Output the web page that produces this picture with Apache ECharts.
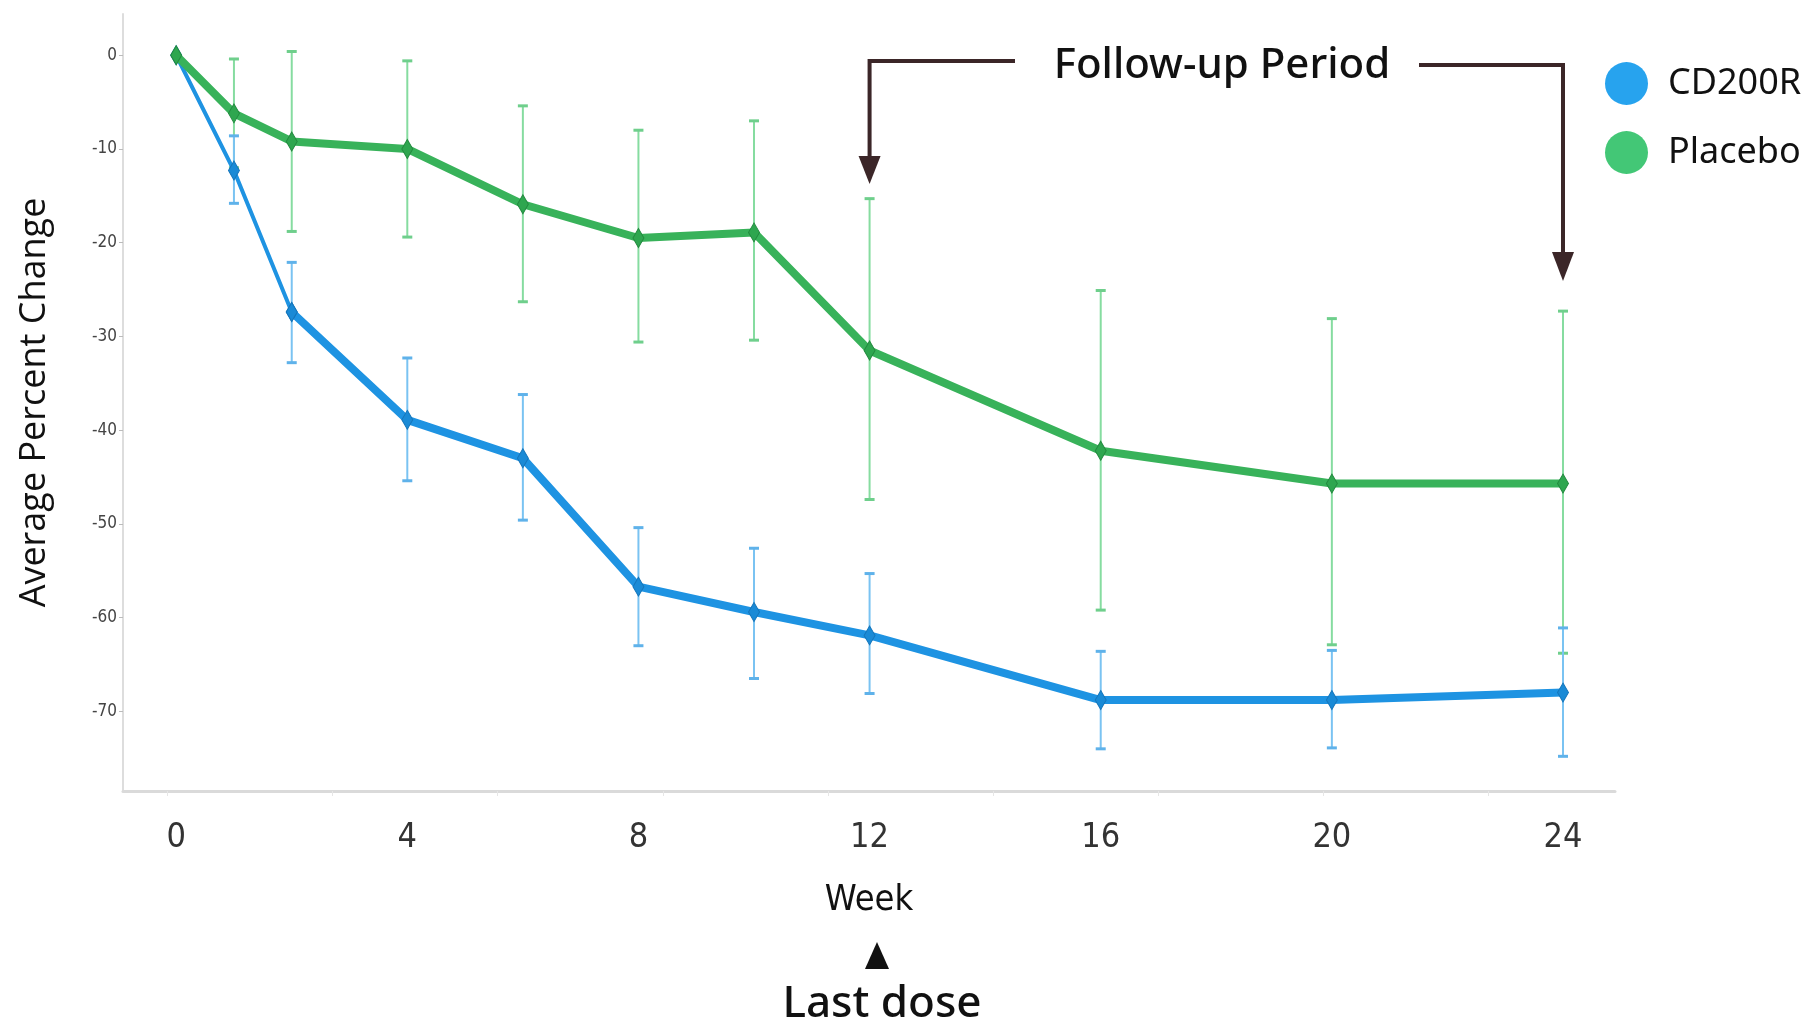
<!DOCTYPE html>
<html>
<head>
<meta charset="utf-8">
<title>Average Percent Change</title>
<script src="https://cdn.jsdelivr.net/npm/echarts@6/dist/echarts.min.js"></script>
<style>
  html, body { margin: 0; padding: 0; background: #fff; }
  #chart { width: 1805px; height: 1022px; }
</style>
</head>
<body>
<div id="chart"></div>
<script>
// visit weeks
var weeks = [0, 1, 2, 4, 6, 8, 10, 12, 16, 20, 24]
var weekTicks = [0, 4, 8, 12, 16, 20, 24]
var pctTicks = [0, -10, -20, -30, -40, -50, -60, -70]

// CD200R arm: mean and error bar ends
var cd200rMean = [0, -12.3, -27.4, -38.9, -43.0, -56.7, -59.4, -61.9, -68.8, -68.8, -68.0]
var cd200rLow = [0, -15.8, -32.8, -45.4, -49.6, -63.0, -66.5, -68.1, -74.0, -73.9, -74.8]
var cd200rHigh = [0, -8.6, -22.1, -32.3, -36.2, -50.4, -52.6, -55.3, -63.6, -63.5, -61.1]

// placebo arm
var placeboMean = [0, -6.2, -9.2, -10.0, -15.9, -19.5, -18.9, -31.5, -42.2, -45.7, -45.7]
var placeboLow = [0, -12.0, -18.8, -19.4, -26.3, -30.6, -30.4, -47.4, -59.2, -62.9, -63.8]
var placeboHigh = [0, -0.4, 0.4, -0.6, -5.4, -8.0, -7.0, -15.3, -25.1, -28.1, -27.3]

var narrow = "'DejaVu Sans Condensed', 'Liberation Sans Narrow', sans-serif"

function points (mean) {
  return weeks.map(function (w, i) { return [w, mean[i]] })
}

function bars (low, high) {
  return weeks.map(function (w, i) { return [w, low[i], high[i]] })
    .filter(function (d) { return d[1] !== d[2] })
}

// vertical error bar with small caps
function errorBar (color, capColor) {
  return function (params, api) {
    var x = api.value(0)
    var lo = api.coord([x, api.value(1)])
    var hi = api.coord([x, api.value(2)])
    var half = 5
    var cap = { stroke: capColor, lineWidth: 3 }
    return {
      type: 'group',
      children: [
        { type: 'line', shape: { x1: hi[0], y1: hi[1], x2: lo[0], y2: lo[1] }, style: { stroke: color, lineWidth: 2 } },
        { type: 'line', shape: { x1: hi[0] - half, y1: hi[1], x2: hi[0] + half, y2: hi[1] }, style: cap },
        { type: 'line', shape: { x1: lo[0] - half, y1: lo[1], x2: lo[0] + half, y2: lo[1] }, style: cap }
      ]
    }
  }
}

// faint ticks of the original axis
var minorTicks = []
for (var k = 0; k < 9; k++) minorTicks.push(-0.15 + k * 2.857)

var chart = echarts.init(document.getElementById('chart'))

var blue = '#1e93e2'
var green = '#38b25a'

chart.setOption({
  animation: false,
  grid: { left: 123, right: 190, top: 14, bottom: 231 },
  legend: {
    orient: 'vertical',
    left: 1605,
    top: 62,
    padding: 0,
    icon: 'circle',
    itemWidth: 43,
    itemHeight: 43,
    itemGap: 26,
    textStyle: { fontFamily: 'Noto Sans', fontSize: 36, color: '#111', padding: [0, 0, 0, 15] },
    data: [
      { name: 'CD200R', itemStyle: { color: '#27a3ee', borderWidth: 0 } },
      { name: 'Placebo', itemStyle: { color: '#43c776', borderWidth: 0 } }
    ]
  },
  xAxis: {
    type: 'value',
    min: -0.92,
    max: 24.9,
    splitLine: { show: false },
    axisLine: { onZero: false, lineStyle: { color: '#dadada', width: 3 } },
    axisTick: { show: true, customValues: minorTicks, length: 5, lineStyle: { color: '#e6e6e6' } },
    axisLabel: { customValues: weekTicks, fontFamily: narrow, fontSize: 34, color: '#333', margin: 30 },
    name: 'Week',
    nameLocation: 'middle',
    nameGap: 92,
    nameTextStyle: { fontFamily: narrow, fontSize: 36, color: '#111' }
  },
  yAxis: {
    type: 'value',
    min: -78.5,
    max: 4.4,
    splitLine: { show: false },
    axisLine: { show: true, onZero: false, lineStyle: { color: '#dddddd', width: 2 } },
    axisTick: { show: true, customValues: pctTicks, length: 4, lineStyle: { color: '#bbb' } },
    axisLabel: { customValues: pctTicks, fontFamily: narrow, fontSize: 17, color: '#444', margin: 6 },
    name: 'Average Percent Change',
    nameLocation: 'middle',
    nameGap: 70,
    nameTextStyle: { fontFamily: 'Open Sans', fontSize: 36, color: '#111' }
  },
  series: [
    {
      type: 'custom',
      name: 'placeboErr',
      renderItem: errorBar('#86dca0', '#6fcf8c'),
      encode: { x: 0, y: [1, 2] },
      data: bars(placeboLow, placeboHigh),
      z: 1
    },
    {
      type: 'custom',
      name: 'cd200rErr',
      renderItem: errorBar('#7ac3f2', '#5fb2ea'),
      encode: { x: 0, y: [1, 2] },
      data: bars(cd200rLow, cd200rHigh),
      z: 1
    },
    {
      name: 'CD200R',
      type: 'line',
      data: points(cd200rMean).slice(0, 3),
      symbol: 'diamond',
      symbolSize: [11, 19],
      itemStyle: { color: '#1a8ad6', borderColor: '#1676bb', borderWidth: 1 },
      lineStyle: { color: blue, width: 4 },
      z: 3
    },
    {
      name: 'CD200R',
      type: 'line',
      data: points(cd200rMean).slice(2),
      symbol: 'diamond',
      symbolSize: [11, 19],
      itemStyle: { color: '#1a8ad6', borderColor: '#1676bb', borderWidth: 1 },
      lineStyle: { color: blue, width: 8 },
      z: 3
    },
    {
      name: 'Placebo',
      type: 'line',
      data: points(placeboMean),
      symbol: 'diamond',
      symbolSize: [11, 19],
      itemStyle: { color: '#2ea64f', borderColor: '#238a3f', borderWidth: 1 },
      lineStyle: { color: green, width: 8 },
      z: 4
    }
  ]
})

// annotations anchored on the week axis
var x12 = chart.convertToPixel({ xAxisIndex: 0 }, 12)
var x24 = chart.convertToPixel({ xAxisIndex: 0 }, 24)
var arrowColor = '#3b2628'

chart.setOption({
  graphic: [
    { type: 'polyline', z: 10, shape: { points: [[1015, 61], [x12, 61], [x12, 160]] }, style: { stroke: arrowColor, lineWidth: 4, fill: null } },
    { type: 'polygon', z: 10, shape: { points: [[x12 - 11, 156], [x12 + 11, 156], [x12, 184]] }, style: { fill: arrowColor } },
    { type: 'polyline', z: 10, shape: { points: [[1419, 65], [x24, 65], [x24, 255]] }, style: { stroke: arrowColor, lineWidth: 4, fill: null } },
    { type: 'polygon', z: 10, shape: { points: [[x24 - 11, 252], [x24 + 11, 252], [x24, 281]] }, style: { fill: arrowColor } },
    {
      type: 'text',
      z: 10,
      x: 1222,
      y: 66,
      style: { text: 'Follow-up Period', font: "500 42px 'Noto Sans', sans-serif", fill: '#111', align: 'center', verticalAlign: 'middle' }
    },
    { type: 'polygon', z: 10, shape: { points: [[865, 969], [889, 969], [877, 942]] }, style: { fill: '#111' } },
    {
      type: 'text',
      z: 10,
      x: 882,
      y: 1004,
      style: { text: 'Last dose', font: "500 44px 'Noto Sans', sans-serif", fill: '#111', align: 'center', verticalAlign: 'middle' }
    }
  ]
})

window.onresize = function () {
  chart.resize()
}
</script>
</body>
</html>
